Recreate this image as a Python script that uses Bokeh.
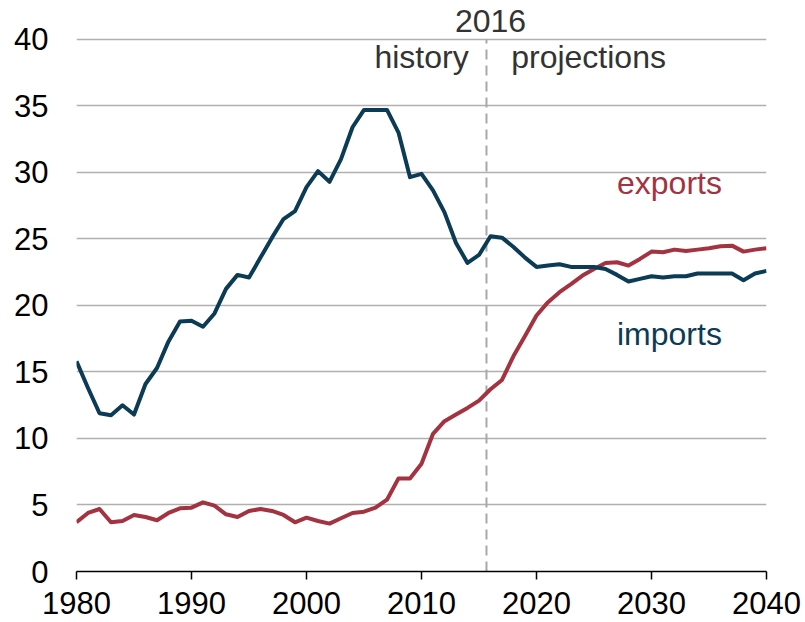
from bokeh.plotting import figure
from bokeh.models import Range1d, FixedTicker, ColumnDataSource
from bokeh.core.properties import value
from bokeh.embed import file_html
from bokeh.resources import INLINE

years = list(range(1980, 2041))

imports = [15.8, 13.8, 11.9, 11.75, 12.5, 11.8, 14.1, 15.3, 17.3, 18.8,
           18.85, 18.4, 19.4, 21.25, 22.3, 22.1, 23.6, 25.1, 26.5, 27.1,
           28.9, 30.1, 29.3, 31.0, 33.4, 34.7, 34.7, 34.7, 33.0, 29.65,
           29.9, 28.65, 27.0, 24.7, 23.2, 23.8, 25.2, 25.1, 24.4, 23.6,
           22.9, 23.0, 23.1, 22.9, 22.9, 22.9, 22.75, 22.3, 21.8, 22.0,
           22.2, 22.1, 22.2, 22.2, 22.4, 22.4, 22.4, 22.4, 21.9, 22.4,
           22.6]

exports = [3.7, 4.4, 4.7, 3.7, 3.8, 4.25, 4.1, 3.85, 4.4, 4.75,
           4.8, 5.2, 4.95, 4.3, 4.1, 4.55, 4.7, 4.55, 4.25, 3.7,
           4.05, 3.8, 3.6, 4.0, 4.4, 4.5, 4.8, 5.4, 7.0, 7.0,
           8.1, 10.35, 11.3, 11.8, 12.3, 12.85, 13.7, 14.4, 16.2, 17.7,
           19.25, 20.25, 21.0, 21.6, 22.25, 22.75, 23.2, 23.25, 23.0, 23.5,
           24.05, 24.0, 24.2, 24.1, 24.2, 24.3, 24.45, 24.5, 24.05, 24.2,
           24.3]

x_ticks = [1980, 1990, 2000, 2010, 2020, 2030, 2040]
y_ticks = [0, 5, 10, 15, 20, 25, 30, 35, 40]
divider_year = 2015.65

IMP_COLOR = "#0b3b55"
EXP_COLOR = "#a33340"
FONT = "Liberation Sans"

p = figure(width=805, height=622, output_backend="svg", toolbar_location=None,
           x_range=Range1d(1980, 2040), y_range=Range1d(0, 42.93),
           min_border_left=76, min_border_right=39, min_border_top=0,
           min_border_bottom=51)
p.outline_line_color = None
p.background_fill_color = "white"
p.border_fill_color = "white"

# grid
p.xgrid.grid_line_color = None
p.ygrid.ticker = FixedTicker(ticks=y_ticks[1:])
p.ygrid.grid_line_color = "#b0b0b0"
p.ygrid.grid_line_width = 1.6

# x axis
p.xaxis.ticker = FixedTicker(ticks=x_ticks)
p.xaxis.axis_line_color = "black"
p.xaxis.axis_line_width = 1.5
p.xaxis.major_tick_line_color = "black"
p.xaxis.major_tick_line_width = 1.5
p.xaxis.major_tick_out = 8
p.xaxis.major_tick_in = 0
p.xaxis.minor_tick_line_color = None
p.xaxis.major_label_text_font = FONT
p.xaxis.major_label_text_font_size = "31px"
p.xaxis.major_label_text_color = "black"
p.xaxis.major_label_standoff = 12

# y axis
p.yaxis.ticker = FixedTicker(ticks=y_ticks)
p.yaxis.axis_line_color = None
p.yaxis.major_tick_line_color = None
p.yaxis.minor_tick_line_color = None
p.yaxis.major_tick_out = 0
p.yaxis.major_tick_in = 0
p.yaxis.major_label_text_font = FONT
p.yaxis.major_label_text_font_size = "31px"
p.yaxis.major_label_text_color = "black"
p.yaxis.major_label_standoff = 28

# divider
p.segment(x0=[divider_year], y0=[0], x1=[divider_year], y1=[40],
          line_color="#a8a8a8", line_width=2, line_dash="10 6")

src = ColumnDataSource(dict(year=years, imports=imports, exports=exports))
p.line("year", "exports", source=src, line_color=EXP_COLOR, line_width=4,
       line_join="round")
p.line("year", "imports", source=src, line_color=IMP_COLOR, line_width=4,
       line_join="round")

# annotations
p.text(x=[2016.0], y=[41.38], text=["2016"], text_font=value(FONT),
       text_font_size="32px", text_color="#333333", text_align="center",
       text_baseline="alphabetic")
p.text(x=[2014.1], y=[38.7], text=["history"], text_font=value(FONT),
       text_font_size="32px", text_color="#333333", text_align="right",
       text_baseline="alphabetic")
p.text(x=[2017.8], y=[38.7], text=["projections"], text_font=value(FONT),
       text_font_size="32px", text_color="#333333", text_align="left",
       text_baseline="alphabetic")
p.text(x=[2027.0], y=[29.2], text=["exports"], text_font=value(FONT),
       text_font_size="32px", text_color=EXP_COLOR, text_align="left",
       text_baseline="alphabetic")
p.text(x=[2027.0], y=[17.85], text=["imports"], text_font=value(FONT),
       text_font_size="32px", text_color=IMP_COLOR, text_align="left",
       text_baseline="alphabetic")

open("out.html", "w").write(file_html(p, INLINE))
